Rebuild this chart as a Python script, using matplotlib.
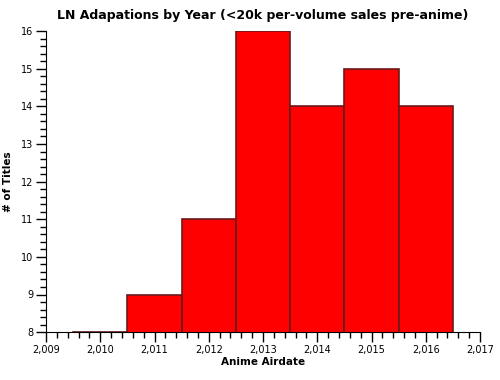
import matplotlib
matplotlib.use("Agg")
import matplotlib.pyplot as plt
from matplotlib.ticker import MultipleLocator, FuncFormatter, AutoMinorLocator

years = [2010, 2011, 2012, 2013, 2014, 2015, 2016]
counts = [8, 9, 11, 16, 14, 15, 14]

fig = plt.figure(figsize=(5, 3.8), dpi=100)
ax = fig.add_axes([0.092, 0.126, 0.868, 0.792])
ax.bar(years, counts, width=1.0, color='#ff0000', edgecolor='#6a1a1a', linewidth=1.2)
ax.set_xlim(2009, 2017)
ax.set_ylim(8, 16)
ax.xaxis.set_major_locator(MultipleLocator(1))
ax.xaxis.set_minor_locator(AutoMinorLocator(5))
ax.yaxis.set_major_locator(MultipleLocator(1))
ax.yaxis.set_minor_locator(AutoMinorLocator(5))
ax.xaxis.set_major_formatter(FuncFormatter(lambda v, p: f"{int(round(v)):,}"))
for s in ['top', 'right']:
    ax.spines[s].set_visible(False)
ax.tick_params(axis='both', which='major', length=7, width=1, labelsize=7, direction='out', pad=2)
ax.tick_params(axis='both', which='minor', length=4, width=1, direction='out')
ax.set_title("LN Adapations by Year (<20k per-volume sales pre-anime)", fontsize=9, fontweight='bold', pad=9)
ax.set_xlabel("Anime Airdate", fontsize=7.5, fontweight='bold', labelpad=2)
ax.set_ylabel("# of Titles", fontsize=7.5, fontweight='bold', labelpad=12)
ax.yaxis.set_label_coords(-0.075, 0.5)
fig.savefig("out.png", dpi=100)
